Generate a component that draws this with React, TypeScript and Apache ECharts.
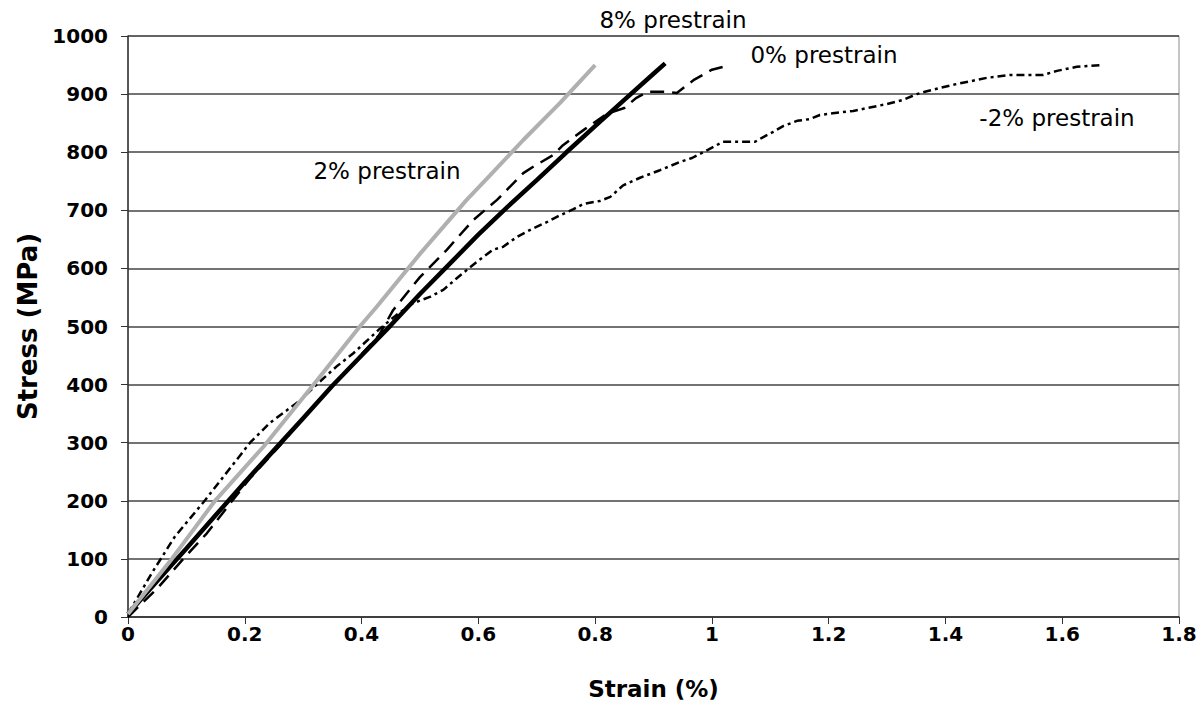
import React, { useEffect, useRef } from "react";
import * as echarts from "echarts";

// 2% prestrain (light grey)
const strain2 = [0, 0.075, 0.149, 0.232, 0.318, 0.397, 0.426, 0.5, 0.58, 0.62, 0.677, 0.74, 0.8];
const stress2 = [5, 100, 200, 293, 400, 500, 534, 625, 718, 760, 821, 885, 950];

// 8% prestrain (thick black)
const strain8 = [0, 0.05, 0.1, 0.15, 0.2, 0.26, 0.3, 0.35, 0.4, 0.45, 0.5, 0.55, 0.6, 0.65, 0.7, 0.75, 0.8, 0.85, 0.9, 0.92];
const stress8 = [5, 62, 118, 175, 232, 298, 342, 398, 450, 502, 556, 607, 658, 706, 752, 799, 845, 890, 935, 953];

// 0% prestrain (dashed)
const strain0 = [0, 0.051, 0.092, 0.135, 0.173, 0.21, 0.26, 0.32, 0.38, 0.43, 0.454, 0.5, 0.546, 0.591, 0.632, 0.677, 0.694, 0.728, 0.745, 0.78, 0.82, 0.85, 0.87, 0.89, 0.92, 0.94, 0.97, 1.0, 1.031];
const stress0 = [0, 50, 97, 144, 193, 240, 295, 365, 430, 485, 528, 585, 632, 683, 718, 764, 775, 795, 812, 838, 866, 876, 893, 904, 904, 902, 925, 942, 950];

// -2% prestrain (dash-dot)
const strainM2 = [0, 0.041, 0.08, 0.132, 0.195, 0.209, 0.243, 0.295, 0.323, 0.357, 0.386, 0.43, 0.46, 0.488, 0.517, 0.54, 0.563, 0.58, 0.597, 0.625, 0.642, 0.666, 0.692, 0.718, 0.737, 0.763, 0.78, 0.808, 0.826, 0.848, 0.877, 0.911, 0.945, 0.966, 0.993, 1.019, 1.06, 1.074, 1.088, 1.105, 1.122, 1.146, 1.168, 1.185, 1.207, 1.242, 1.266, 1.3, 1.327, 1.351, 1.368, 1.413, 1.471, 1.511, 1.567, 1.591, 1.625, 1.67];
const stressM2 = [5, 76, 138, 201, 282, 300, 334, 373, 400, 431, 454, 495, 520, 540, 551, 563, 583, 597, 611, 632, 637, 654, 668, 680, 690, 702, 711, 716, 723, 743, 756, 769, 783, 790, 804, 818, 818, 818, 826, 835, 845, 854, 857, 864, 867, 871, 876, 883, 890, 900, 905, 916, 928, 933, 933, 940, 947, 950];

const seriesLabels = ["8% prestrain", "0% prestrain", "2% prestrain", "-2% prestrain"];

const zip = (xs: number[], ys: number[]) => xs.map((x, i) => [x, ys[i]]);

export default function App() {
  const ref = useRef<HTMLDivElement>(null);
  useEffect(() => {
    const chart = echarts.init(ref.current!, null, { renderer: "svg" });
    const tickFont = { fontFamily: "DejaVu Sans", fontWeight: "bold", fontSize: 20, color: "#000" };
    const noteFont = "23px 'DejaVu Sans'";
    chart.setOption({
      animation: false,
      backgroundColor: "#fff",
      grid: {
        left: 128,
        right: 25,
        top: 36,
        bottom: 100,
        show: true,
        borderColor: "#8a8a8a",
        borderWidth: 1,
        backgroundColor: "transparent",
      },
      xAxis: {
        type: "value",
        min: 0,
        max: 1.8,
        interval: 0.2,
        name: "Strain (%)",
        nameLocation: "middle",
        nameGap: 60,
        nameTextStyle: { fontFamily: "DejaVu Sans", fontWeight: "bold", fontSize: 23, color: "#000" },
        axisLine: { show: true, lineStyle: { color: "#333", width: 1.5 } },
        axisTick: { show: true, length: 7, lineStyle: { color: "#333", width: 1 } },
        axisLabel: { ...tickFont, margin: 7, formatter: (v: number) => String(Number(v.toFixed(1))) },
        splitLine: { show: false },
      },
      yAxis: {
        type: "value",
        min: 0,
        max: 1000,
        interval: 100,
        name: "Stress (MPa)",
        nameLocation: "middle",
        nameGap: 82,
        nameTextStyle: { fontFamily: "DejaVu Sans", fontWeight: "bold", fontSize: 26, color: "#000" },
        axisLine: { show: true, lineStyle: { color: "#333", width: 1.5 } },
        axisTick: { show: true, length: 7, lineStyle: { color: "#333", width: 1 } },
        axisLabel: { ...tickFont, margin: 20, formatter: (v: number) => String(v) },
        splitLine: { show: true, lineStyle: { color: "#444", width: 1.5 } },
      },
      series: [
        {
          name: seriesLabels[3],
          type: "line",
          showSymbol: false,
          data: zip(strainM2, stressM2),
          lineStyle: { color: "#000", width: 2.5, type: [8, 4, 3, 4] },
        },
        {
          name: seriesLabels[1],
          type: "line",
          showSymbol: false,
          data: zip(strain0, stress0),
          lineStyle: { color: "#000", width: 2.5, type: [14, 8] },
        },
        {
          name: seriesLabels[0],
          type: "line",
          showSymbol: false,
          data: zip(strain8, stress8),
          lineStyle: { color: "#000", width: 4.5, type: "solid" },
        },
        {
          name: seriesLabels[2],
          type: "line",
          showSymbol: false,
          data: zip(strain2, stress2),
          lineStyle: { color: "#b0b0b0", width: 4, type: "solid" },
        },
      ],
      graphic: [
        { type: "text", x: 673, y: 20, style: { text: seriesLabels[0], font: noteFont, fill: "#000", textAlign: "center", textVerticalAlign: "middle" } },
        { type: "text", x: 824, y: 55, style: { text: seriesLabels[1], font: noteFont, fill: "#000", textAlign: "center", textVerticalAlign: "middle" } },
        { type: "text", x: 387, y: 171, style: { text: seriesLabels[2], font: noteFont, fill: "#000", textAlign: "center", textVerticalAlign: "middle" } },
        { type: "text", x: 1057, y: 118, style: { text: seriesLabels[3], font: noteFont, fill: "#000", textAlign: "center", textVerticalAlign: "middle" } },
      ],
    });
    return () => chart.dispose();
  }, []);
  return (
    <div
      ref={ref}
      style={{ position: "fixed", left: 0, top: 0, width: 1204, height: 717, background: "#fff" }}
    />
  );
}
